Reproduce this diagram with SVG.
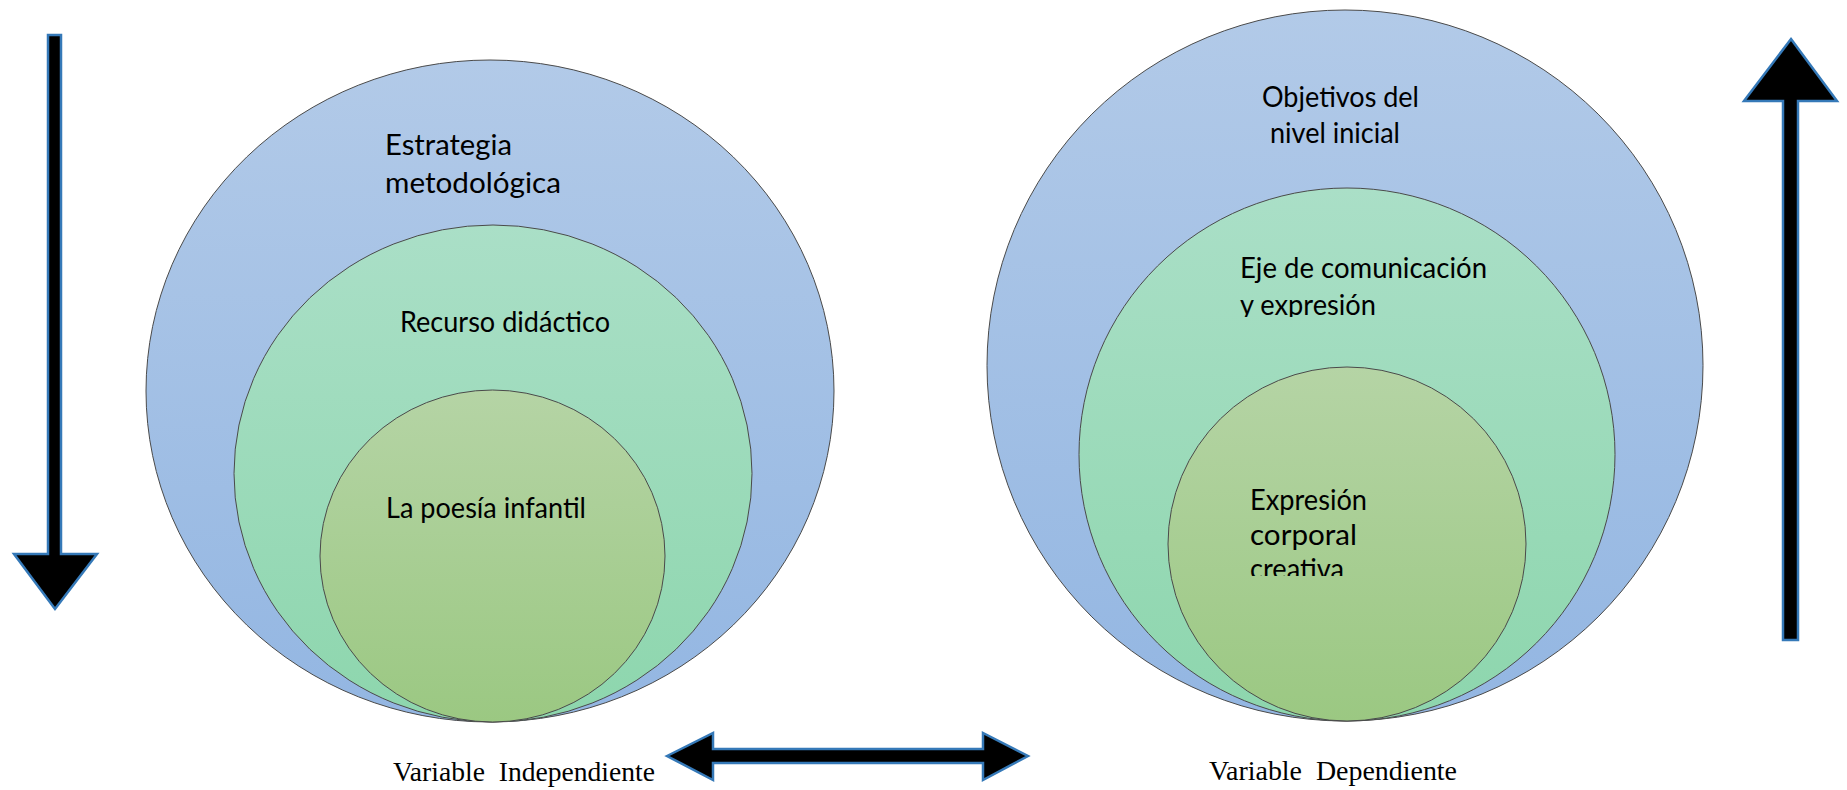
<svg xmlns="http://www.w3.org/2000/svg" width="1847" height="790" viewBox="0 0 1847 790">
<defs>
<linearGradient id="gBlue" x1="0" y1="0" x2="0" y2="1"><stop offset="0" stop-color="#b2cae8"/><stop offset="1" stop-color="#93b6e2"/></linearGradient>
<linearGradient id="gTeal" x1="0" y1="0" x2="0" y2="1"><stop offset="0" stop-color="#aadfc7"/><stop offset="1" stop-color="#8dd6ad"/></linearGradient>
<linearGradient id="gGreen" x1="0" y1="0" x2="0" y2="1"><stop offset="0" stop-color="#b5d4a5"/><stop offset="1" stop-color="#9bc882"/></linearGradient>
<clipPath id="clipEje"><rect x="1200" y="240" width="320" height="77"/></clipPath>
<clipPath id="clipExp"><rect x="1200" y="480" width="250" height="96"/></clipPath>
</defs>
<style>
.ell{stroke:#4a4a4a;stroke-width:1}
.lbl{font-family:Lato,"Open Sans",sans-serif;font-size:28px;fill:#000}
.var{font-family:"Liberation Serif","Times New Roman",serif;font-size:27px;fill:#000}
.arr{fill:#000;stroke:#3579b8;stroke-width:2.5;stroke-linejoin:miter}
</style>
<rect width="1847" height="790" fill="#fff"/>

<g id="left-outer"><ellipse class="ell" cx="490" cy="391" rx="344" ry="331" fill="url(#gBlue)"/>
<text class="lbl" x="385" y="155" textLength="127" lengthAdjust="spacingAndGlyphs">Estrategia</text>
<text class="lbl" x="385" y="193" textLength="176" lengthAdjust="spacingAndGlyphs">metodológica</text></g>
<g id="left-middle"><ellipse class="ell" cx="493" cy="473.5" rx="259" ry="248.5" fill="url(#gTeal)"/>
<text class="lbl" x="400" y="332" textLength="210" lengthAdjust="spacingAndGlyphs">Recurso didáctico</text></g>
<g id="left-inner"><ellipse class="ell" cx="492.5" cy="556" rx="172.5" ry="166" fill="url(#gGreen)"/>
<text class="lbl" x="386" y="518" textLength="200" lengthAdjust="spacingAndGlyphs">La poesía infantil</text></g>

<g id="right-outer"><ellipse class="ell" cx="1345" cy="365.5" rx="358" ry="355.5" fill="url(#gBlue)"/>
<text class="lbl" x="1262" y="107" textLength="157" lengthAdjust="spacingAndGlyphs">Objetivos del</text>
<text class="lbl" x="1270" y="143" textLength="130" lengthAdjust="spacingAndGlyphs">nivel inicial</text></g>
<g id="right-middle"><ellipse class="ell" cx="1347" cy="454.5" rx="268" ry="266.5" fill="url(#gTeal)"/>
<g clip-path="url(#clipEje)"><text class="lbl" x="1240" y="278" textLength="247" lengthAdjust="spacingAndGlyphs">Eje de comunicación</text>
<text class="lbl" x="1240" y="315" textLength="136" lengthAdjust="spacingAndGlyphs">y expresión</text></g></g>
<g id="right-inner"><ellipse class="ell" cx="1347" cy="544" rx="179" ry="177" fill="url(#gGreen)"/>
<g clip-path="url(#clipExp)"><text class="lbl" x="1250" y="510" textLength="117" lengthAdjust="spacingAndGlyphs">Expresión</text>
<text class="lbl" x="1250" y="545" textLength="107" lengthAdjust="spacingAndGlyphs">corporal</text>
<text class="lbl" x="1250" y="579" textLength="94" lengthAdjust="spacingAndGlyphs">creativa</text></g></g>

<g id="label-independiente"><text class="var" x="393" y="781" textLength="262" lengthAdjust="spacingAndGlyphs" xml:space="preserve">Variable  Independiente</text></g>
<g id="label-dependiente"><text class="var" x="1209" y="780" textLength="248" lengthAdjust="spacingAndGlyphs" xml:space="preserve">Variable  Dependiente</text></g>

<g id="connectors">
<polygon id="arrow-down" class="arr" points="48,35 61,35 61,554 97,554 55,609 14,554 48,554"/>
<polygon id="arrow-up" class="arr" points="1791,39 1837,101 1798,101 1798,640 1783,640 1783,101 1744,101"/>
<polygon id="arrow-both" class="arr" points="667,756 713,733 713,749 983,749 983,733 1028,756 983,780 983,763 713,763 713,780"/>
</g>
</svg>
